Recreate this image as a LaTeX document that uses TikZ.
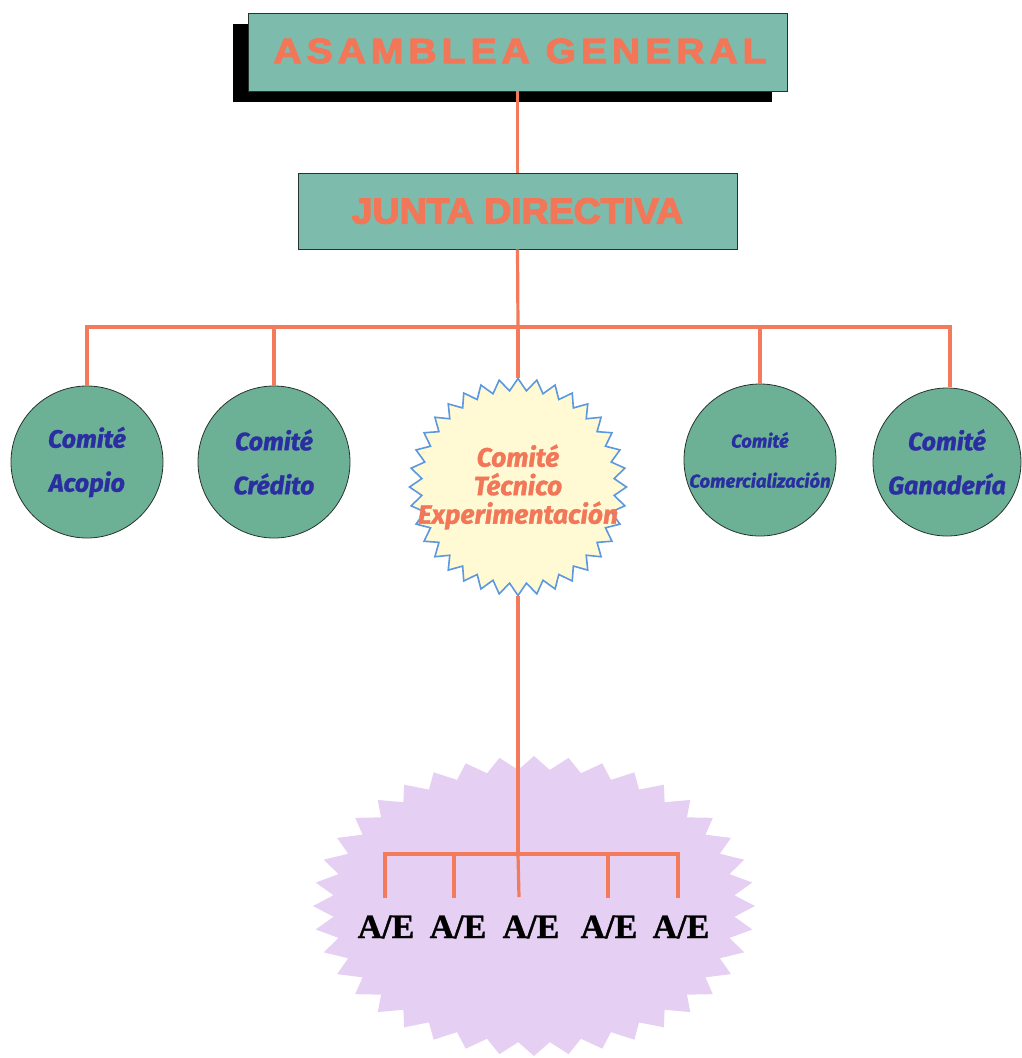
\documentclass[tikz,border=0pt]{standalone}
\usepackage{fontspec}
\setmainfont{Liberation Serif}
\newfontfamily\titlefont[LetterSpace=14,FakeBold=3,FakeStretch=1.12]{Liberation Sans Bold}
\newfontfamily\juntafont[FakeBold=3.5,FakeStretch=1.04]{Liberation Sans Bold}
\newfontfamily\comfont[FakeBold=1.2]{Fira Sans}
\newfontfamily\aefont[FakeBold=1]{Liberation Serif Bold}
\usetikzlibrary{shadows}
\definecolor{lineorange}{RGB}{243,122,90}
\definecolor{boxfill}{RGB}{125,188,172}
\definecolor{circfill}{RGB}{108,176,150}
\definecolor{titletext}{RGB}{242,118,88}
\definecolor{bluetext}{RGB}{42,46,160}
\definecolor{yellowfill}{RGB}{255,250,212}
\definecolor{starblue}{RGB}{92,152,222}
\definecolor{purplefill}{RGB}{229,208,243}
\definecolor{edgedark}{RGB}{40,50,45}
\begin{document}
\begin{tikzpicture}[x=1pt,y=-1pt,
  conn/.style={draw=lineorange,line width=3.2pt},
  titlebox/.style={rectangle,fill=boxfill,draw=edgedark,line width=0.8pt,inner sep=0pt},
  comcircle/.style={circle,fill=circfill,draw=edgedark,line width=0.8pt,inner sep=0pt,
     minimum size=152pt,text=bluetext,align=center,
     font=\comfont\bfseries\itshape\fontsize{25}{44}\selectfont},
  aelabel/.style={font=\aefont\fontsize{34}{34}\selectfont,text height=22pt,text depth=0pt,inner xsep=0pt,inner ysep=18pt}
]
\useasboundingbox (0,0) rectangle (1021,1058);
% purple starburst background
\fill[purplefill] plot[samples=81,domain=0:360,variable=\t]
  ({534+221*(0.955+0.045*cos(40*\t))*cos(\t)},{906+150*(0.955+0.045*cos(40*\t))*sin(\t)}) -- cycle;
% yellow starburst
\filldraw[fill=yellowfill,draw=starblue,line width=1.6pt] plot[samples=73,domain=0:360,variable=\t]
  ({518+(102.5+6*cos(36*\t))*cos(\t)},{487+(102.5+6*cos(36*\t))*sin(\t)}) -- cycle;

% top boxes
\node[titlebox,minimum width=539pt,minimum height=78pt,
      drop shadow={shadow xshift=-15pt,shadow yshift=-11pt,fill=black,opacity=1}]
  (ag) at (517.5,52) {};
\node[text=titletext,font=\titlefont\fontsize{35}{35}\selectfont] (agt) at (520,51) {ASAMBLEA GENERAL};
\node[titlebox,minimum width=439pt,minimum height=76pt,text=titletext,
      font=\juntafont\fontsize{36}{36}\selectfont] (jd) at (517.5,211) {JUNTA DIRECTIVA};

% committees
\node[comcircle] (ac) at (87,462) {Comité\\Acopio};
\node[comcircle] (cr) at (274,462) {Comité\\Crédito};
\node[comcircle,font=\comfont\bfseries\itshape\fontsize{18.5}{40}\selectfont] (co) at (760,460) {Comité\\Comercialización};
\node[comcircle,minimum size=148pt] (ga) at (947,462) {Comité\\Ganadería};
\node[circle,minimum size=216pt,inner sep=0pt,text=titletext,align=center,
      font=\comfont\bfseries\itshape\fontsize{26.5}{28.5}\selectfont] (tec) at (518,487)
      {Comité\\Técnico\\Experimentación};

% A/E labels
\node[aelabel] (ae1) at (386,927) {A/E};
\node[aelabel] (ae2) at (458,927) {A/E};
\node[aelabel] (ae3) at (531,927) {A/E};
\node[aelabel] (ae4) at (609,927) {A/E};
\node[aelabel] (ae5) at (681,927) {A/E};

\coordinate (bus1) at (518,327);
\coordinate (bus2) at (518,854);
\coordinate (d3) at (519,897);

% connectors
\draw[conn] (ag.south) -- (jd.north);
\draw[conn] (jd.south) -- (bus1);
\draw[conn] (ac.north) -- (ac.north |- bus1) -- (950,327) -- (950,387);
\draw[conn] (cr.north) -- (cr.north |- bus1);
\draw[conn] (tec.north) -- (bus1);
\draw[conn] (co.north) -- (co.north |- bus1);
\draw[conn] (tec.south) -- (bus2);
\draw[conn] ([xshift=-1pt]ae1.north) -- ([xshift=-1pt]ae1.north |- bus2) -- ([xshift=-3pt]ae5.north |- bus2) -- ([xshift=-3pt]ae5.north);
\draw[conn] ([xshift=-4pt]ae2.north) -- ([xshift=-4pt]ae2.north |- bus2);
\draw[conn] (d3) -- (bus2);
\draw[conn] ([xshift=-1pt]ae4.north) -- ([xshift=-1pt]ae4.north |- bus2);
\end{tikzpicture}
\end{document}
